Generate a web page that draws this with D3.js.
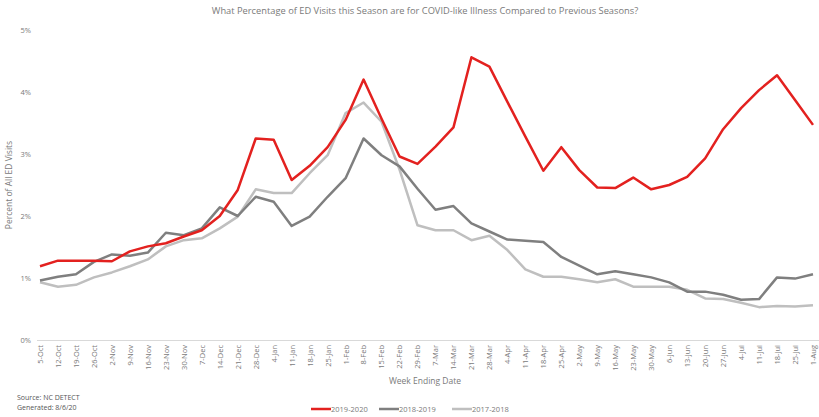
<!DOCTYPE html>
<html>
<head>
<meta charset="utf-8">
<script src="https://cdn.jsdelivr.net/npm/d3@7"></script>
<style>
  body { margin: 0; background: #fff; }
  svg { font-family: "Open Sans", sans-serif; }
</style>
</head>
<body>
<svg id="chart"></svg>
<script>
const weeks = ["5-Oct","12-Oct","19-Oct","26-Oct","2-Nov","9-Nov","16-Nov","23-Nov","30-Nov","7-Dec",
    "14-Dec","21-Dec","28-Dec","4-Jan","11-Jan","18-Jan","25-Jan","1-Feb","8-Feb","15-Feb",
    "22-Feb","29-Feb","7-Mar","14-Mar","21-Mar","28-Mar","4-Apr","11-Apr","18-Apr","25-Apr",
    "2-May","9-May","16-May","23-May","30-May","6-Jun","13-Jun","20-Jun","27-Jun","4-Jul",
    "11-Jul","18-Jul","25-Jul","1-Aug"];

const season1920 = [1.19,1.28,1.28,1.28,1.27,1.43,1.51,1.56,1.67,1.77,
    2.00,2.42,3.25,3.23,2.58,2.81,3.11,3.55,4.20,3.57,
    2.96,2.84,3.12,3.43,4.56,4.41,3.84,3.28,2.73,3.11,
    2.74,2.46,2.45,2.62,2.43,2.50,2.63,2.93,3.40,3.74,
    4.03,4.27,3.87,3.47];

const season1819 = [0.96,1.02,1.06,1.26,1.38,1.36,1.41,1.73,1.69,1.80,
    2.14,2.00,2.31,2.23,1.84,1.99,2.31,2.61,3.25,2.98,
    2.80,2.44,2.10,2.16,1.88,1.75,1.62,1.60,1.58,1.34,
    1.20,1.06,1.11,1.06,1.01,0.93,0.78,0.78,0.73,0.65,
    0.66,1.01,0.99,1.06];

const season1718 = [0.93,0.86,0.89,1.01,1.09,1.19,1.30,1.51,1.61,1.64,
    1.80,1.99,2.43,2.37,2.37,2.69,2.98,3.66,3.83,3.52,
    2.75,1.85,1.77,1.77,1.61,1.68,1.45,1.14,1.02,1.02,
    0.98,0.93,0.98,0.86,0.86,0.86,0.81,0.67,0.66,0.60,
    0.53,0.55,0.54,0.56];

const yTicks = [0, 1, 2, 3, 4, 5];

const series = [
    { name: "2019-2020", values: season1920, color: "#e3211f" },
    { name: "2018-2019", values: season1819, color: "#7f7f7f" },
    { name: "2017-2018", values: season1718, color: "#bfbfbf" }
];

const width = 819;
const height = 417;
const svg = d3.select("#chart").attr("width", width).attr("height", height);

const x = d3.scalePoint()
    .domain(weeks)
    .range([40, 813]);

const y = d3.scaleLinear()
    .domain([0, 5])
    .range([340, 30]);

const textColor = "#7a7a7a";

// Title
svg.append("text")
    .attr("x", 425)
    .attr("y", 14)
    .attr("text-anchor", "middle")
    .attr("font-size", 9.3)
    .attr("fill", textColor)
    .text("What Percentage of ED Visits this Season are for COVID-like Illness Compared to Previous Seasons?");

// Y axis (labels only)
const yAxis = svg.append("g")
    .attr("transform", "translate(31,0)")
    .call(d3.axisLeft(y).tickValues(yTicks).tickFormat(d => d + "%").tickSize(0).tickPadding(0));
yAxis.select(".domain").remove();
yAxis.selectAll("text")
    .attr("font-size", 7.5)
    .attr("fill", textColor)
    .attr("font-family", "Open Sans, sans-serif");

// X axis
const xAxis = svg.append("g")
    .attr("transform", "translate(0,340)")
    .call(d3.axisBottom(x).tickSize(0));
xAxis.select(".domain")
    .attr("d", "M37,0.5H819")
    .attr("stroke", "#d9d9d9");
xAxis.selectAll(".tick line").remove();
xAxis.selectAll("text")
    .attr("font-size", 7.5)
    .attr("fill", textColor)
    .attr("font-family", "Open Sans, sans-serif")
    .attr("transform", "rotate(-90)")
    .attr("x", -5)
    .attr("y", 0)
    .attr("dy", "0.32em")
    .style("text-anchor", "end");

// Axis titles
svg.append("text")
    .attr("x", 425)
    .attr("y", 384)
    .attr("text-anchor", "middle")
    .attr("font-size", 8.5)
    .attr("fill", textColor)
    .text("Week Ending Date");

svg.append("text")
    .attr("transform", "translate(12,185) rotate(-90)")
    .attr("text-anchor", "middle")
    .attr("font-size", 8.5)
    .attr("fill", textColor)
    .text("Percent of All ED Visits");

// Lines
const line = d3.line()
    .x((d, i) => x(weeks[i]))
    .y(d => y(d));

[...series].reverse().forEach(s => {
    svg.append("path")
        .datum(s.values)
        .attr("fill", "none")
        .attr("stroke", s.color)
        .attr("stroke-width", 2.5)
        .attr("stroke-linejoin", "round")
        .attr("d", line);
});

// Legend
const legendX = [311, 379, 452];
series.forEach((s, i) => {
    const g = svg.append("g").attr("transform", `translate(${legendX[i]},409)`);
    g.append("line")
        .attr("x1", 0).attr("x2", 20)
        .attr("stroke", s.color)
        .attr("stroke-width", 2.5);
    g.append("text")
        .attr("x", 20)
        .attr("dy", "0.35em")
        .attr("font-size", 7.5)
        .attr("fill", textColor)
        .text(s.name);
});

// Source note
svg.append("text")
    .attr("x", 17)
    .attr("y", 400)
    .attr("font-size", 7)
    .attr("fill", "#555")
    .text("Source: NC DETECT");
svg.append("text")
    .attr("x", 17)
    .attr("y", 410)
    .attr("font-size", 7)
    .attr("fill", "#555")
    .text("Generated: 8/6/20");
</script>
</body>
</html>
